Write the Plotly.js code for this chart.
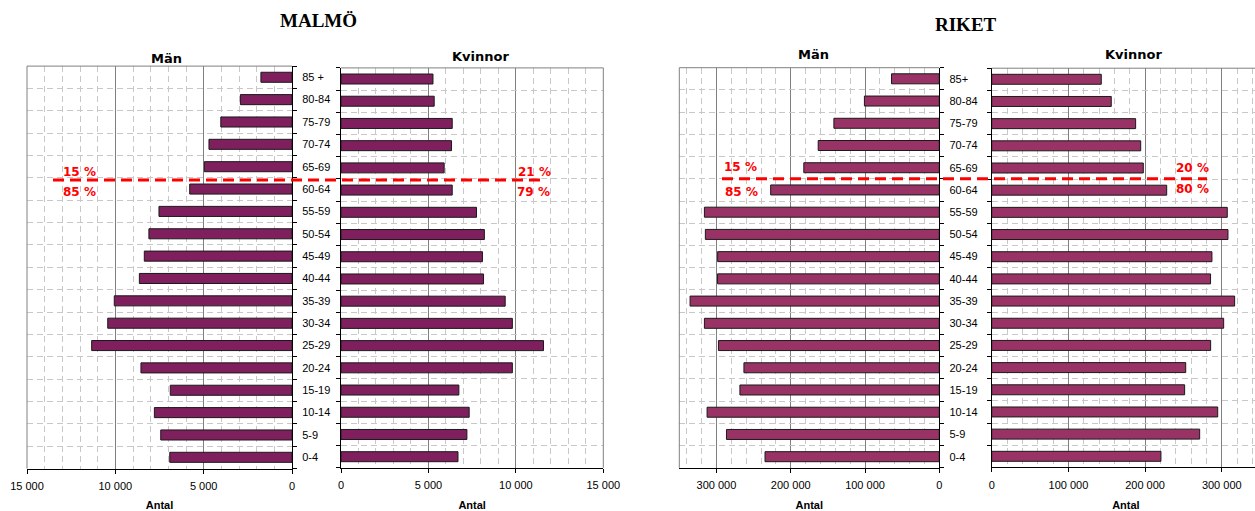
<!DOCTYPE html>
<html>
<head>
<meta charset="utf-8">
<script src="https://cdn.plot.ly/plotly-3.0.1.min.js"></script>
<style>
  html, body { margin: 0; padding: 0; overflow: hidden; background: #fff; }
  #chart { width: 1262px; height: 511px; }
</style>
</head>
<body>
<div id="chart"></div>
<script>
// Age groups, bottom to top
const agesMalmo = ['0-4','5-9','10-14','15-19','20-24','25-29','30-34','35-39','40-44',
                   '45-49','50-54','55-59','60-64','65-69','70-74','75-79','80-84','85 +'];
const agesRiket = ['0-4','5-9','10-14','15-19','20-24','25-29','30-34','35-39','40-44',
                   '45-49','50-54','55-59','60-64','65-69','70-74','75-79','80-84','85+'];

// Population by age group (Antal)
const malmoMen   = [6920, 7430, 7790, 6890, 8550, 11340, 10430, 10060, 8640,
                    8360, 8100, 7530, 5790, 4960, 4700, 4030, 2920, 1760];
const malmoWomen = [6690, 7200, 7330, 6740, 9800, 11580, 9800, 9390, 8150,
                    8090, 8200, 7750, 6360, 5900, 6320, 6360, 5330, 5260];
const riketMen   = [234600, 286500, 312600, 268400, 263000, 297300, 316200, 335500, 298500,
                    298400, 314900, 316200, 227000, 182400, 163000, 141900, 100800, 64300];
const riketWomen = [220700, 271200, 294700, 251600, 253000, 285500, 302500, 316800, 285400,
                    287200, 308100, 307200, 228200, 197700, 194300, 187700, 155900, 142900];

// Index of the first 65+ group
const oldStart = 13;

const W = 1262, H = 511;
const fx = p => p / W;
const fy = p => 1 - p / H;

function sharesOld(vals) {
  const total = vals.reduce((a, b) => a + b, 0);
  const old = vals.slice(oldStart).reduce((a, b) => a + b, 0);
  const pOld = Math.round(100 * old / total);
  return [pOld + ' %', (100 - pOld) + ' %'];
}

const tickFont = { family: 'Liberation Sans, Arial, sans-serif', size: 11, color: '#000' };
const boldSans = { family: 'DejaVu Sans, Verdana, sans-serif', size: 13, color: '#000' };
const redFont  = { family: 'DejaVu Sans, Verdana, sans-serif', size: 12, color: '#ff0000' };
const serifTitle = { family: 'Liberation Serif, Times New Roman, serif', size: 19, color: '#000' };

function valueAxis(dom, range, dtick, minorDtick, anchor) {
  return {
    domain: [fx(dom[0]), fx(dom[1])], range: range, anchor: anchor,
    tick0: 0, dtick: dtick, ticks: 'outside', ticklen: 4, tickcolor: '#000',
    showline: true, linecolor: '#000', linewidth: 1, zeroline: false,
    showgrid: true, gridcolor: '#808080', gridwidth: 1,
    minor: { tick0: 0, dtick: minorDtick, showgrid: true, gridcolor: '#c8c8c8',
             griddash: '6px,4px', gridwidth: 1 },
    separatethousands: true, exponentformat: 'none',
    tickfont: tickFont, ticklabelstandoff: 3,
    title: { text: '<b>Antal</b>', font: { family: 'Liberation Sans, Arial, sans-serif', size: 11, color: '#000' }, standoff: 12 },
    fixedrange: true
  };
}

function catAxis(dom, cats, anchor, side, showLabels) {
  return {
    domain: [fy(dom[1]), fy(dom[0])], anchor: anchor, side: side,
    type: 'category', categoryorder: 'array', categoryarray: cats,
    range: [-0.5, cats.length - 0.5],
    tickson: 'boundaries', ticks: 'outside', ticklen: 4, tickcolor: '#000',
    showline: true, linecolor: '#000', linewidth: 1,
    showgrid: true, gridcolor: '#c8c8c8', griddash: '6px,4px', gridwidth: 1,
    showticklabels: showLabels, tickfont: tickFont, ticklabelstandoff: 7,
    fixedrange: true
  };
}

function barTrace(vals, cats, xa, ya, color) {
  return {
    type: 'bar', orientation: 'h', x: vals, y: cats, xaxis: xa, yaxis: ya,
    marker: { color: color, line: { color: '#1a1a1a', width: 1 } },
    hoverinfo: 'x+y', showlegend: false
  };
}

const malmoColor = '#7f1f5e';
const riketColor = '#993366';

const data = [
  barTrace(malmoMen,   agesMalmo, 'x',  'y',  malmoColor),
  barTrace(malmoWomen, agesMalmo, 'x2', 'y2', malmoColor),
  barTrace(riketMen,   agesRiket, 'x3', 'y3', riketColor),
  barTrace(riketWomen, agesRiket, 'x4', 'y4', riketColor)
];

// Gray frame edges (top and outer side) of each plot area
function edge(s, x0, x1, y0, y1) {
  return { type: 'line', xref: 'x' + s + ' domain', yref: 'y' + s + ' domain',
           x0: x0, x1: x1, y0: y0, y1: y1, layer: 'above',
           line: { color: '#808080', width: 1 } };
}
const frames = [
  edge('', 0, 1, 1, 1),  edge('', 0, 0, 0, 1),
  edge('2', 0, 1, 1, 1), edge('2', 1, 1, 0, 1),
  edge('3', 0, 1, 1, 1), edge('3', 0, 0, 0, 1),
  edge('4', 0, 1, 1, 1), edge('4', 1, 1, 0, 1)
];

// Red dashed line between 60-64 and 65-69
const splitLines = [
  { type: 'line', xref: 'paper', yref: 'y',  x0: fx(53),  x1: fx(545),  y0: 12.4, y1: 12.4,
    layer: 'above', line: { color: '#ff0000', width: 3, dash: '11px,6px' } },
  { type: 'line', xref: 'paper', yref: 'y3', x0: fx(722), x1: fx(1207), y0: 12.5, y1: 12.5,
    layer: 'above', line: { color: '#ff0000', width: 3, dash: '11px,6px' } }
];

const sMM = sharesOld(malmoMen), sMW = sharesOld(malmoWomen);
const sRM = sharesOld(riketMen), sRW = sharesOld(riketWomen);

function note(text, px, py, font) {
  return { text: text, xref: 'paper', yref: 'paper', x: fx(px), y: fy(py),
           xanchor: 'center', yanchor: 'middle', showarrow: false, font: font };
}

const annotations = [
  note('<b>MALMÖ</b>', 318, 21, serifTitle),
  note('<b>RIKET</b>', 966, 24, serifTitle),
  note('<b>Män</b>', 166, 58, boldSans),
  note('<b>Kvinnor</b>', 480, 57, boldSans),
  note('<b>Män</b>', 813, 54, boldSans),
  note('<b>Kvinnor</b>', 1133, 54, boldSans),
  note('<b>' + sMM[0] + '</b>', 79, 172, redFont),
  note('<b>' + sMM[1] + '</b>', 79, 192, redFont),
  note('<b>' + sMW[0] + '</b>', 534, 172, redFont),
  note('<b>' + sMW[1] + '</b>', 533, 192, redFont),
  note('<b>' + sRM[0] + '</b>', 740, 167, redFont),
  note('<b>' + sRM[1] + '</b>', 741, 192, redFont),
  note('<b>' + sRW[0] + '</b>', 1192, 168, redFont),
  note('<b>' + sRW[1] + '</b>', 1192, 189, redFont)
];

const layout = {
  width: W, height: H,
  margin: { l: 0, r: 0, t: 0, b: 0, pad: 0 },
  paper_bgcolor: '#fff', plot_bgcolor: '#fff',
  separators: ', ',
  bargap: 0.55,
  font: tickFont,
  xaxis:  valueAxis([27, 292],      [15000, 0],  5000,   1000,  'y'),
  xaxis2: valueAxis([341, 603.3],   [0, 15000],  5000,   1000,  'y2'),
  xaxis3: valueAxis([679.3, 939.3], [350000, 0], 100000, 20000, 'y3'),
  xaxis4: valueAxis([991.7, 1260.1],[0, 350000], 100000, 20000, 'y4'),
  yaxis:  catAxis([66.1, 468.5], agesMalmo, 'x',  'right', true),
  yaxis2: catAxis([67.9, 467.8], agesMalmo, 'x2', 'left',  false),
  yaxis3: catAxis([67.7, 467.8], agesRiket, 'x3', 'right', true),
  yaxis4: catAxis([68.2, 467.4], agesRiket, 'x4', 'left',  false),
  shapes: frames.concat(splitLines),
  annotations: annotations
};

Plotly.newPlot('chart', data, layout, { displayModeBar: false, staticPlot: true });
</script>
</body>
</html>
